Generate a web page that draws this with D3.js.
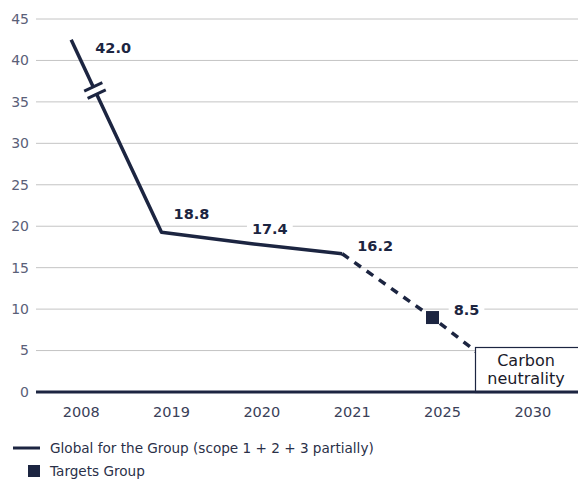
<!DOCTYPE html>
<html><head><meta charset="utf-8">
<script src="https://cdn.jsdelivr.net/npm/d3@7"></script>
<style>body{margin:0;background:#fff}svg{display:block}text{font-family:"DejaVu Sans",sans-serif}</style>
</head><body><svg id="c" width="578" height="480"></svg>
<script>
const years = ["2008","2019","2020","2021","2025","2030"];
const actualYears = ["2008","2019","2020","2021"];
const actualValues = [42.0, 18.8, 17.4, 16.2];
const targetYears = ["2021","2025","2030"];
const targetValues = [16.2, 8.5, 0];
const targetPointYear = ["2025"];
const targetPointValue = [8.5];
const yTicks = [0,5,10,15,20,25,30,35,40,45];
const legendLabels = ["Global for the Group (scope 1 + 2 + 3 partially)", "Targets Group"];
const navy = "#1c2541";

const svg = d3.select("#c");
const pLeft = 36, pRight = 578, pTop = 19, pBottom = 392;
const x = d3.scalePoint().domain(years).range([pLeft, pRight]).padding(0.5);
const y = d3.scaleLinear().domain([0,45]).range([pBottom, pTop]);

// grid
svg.append("g").selectAll("line").data(yTicks.filter(d=>d>0)).join("line")
  .attr("x1", pLeft).attr("x2", pRight).attr("y1", d=>y(d)).attr("y2", d=>y(d))
  .attr("stroke", "#c4c4c4").attr("stroke-width", 1);
svg.append("g").selectAll("text").data(yTicks).join("text")
  .attr("x", 29).attr("y", d=>y(d)).attr("dy","0.35em").attr("text-anchor","end")
  .attr("font-size", 14).attr("fill", "#5a6078").text(d=>d);
// x labels
svg.append("g").selectAll("text").data(years).join("text")
  .attr("x", d=>x(d)).attr("y", 412).attr("dy","0.35em").attr("text-anchor","middle")
  .attr("font-size", 14.5).attr("fill", "#3a4058").text(d=>d);

// lines (offset group)
const g = svg.append("g").attr("transform","translate(-10,-4)");
const line = d3.line().x(d=>x(d[0])).y(d=>y(d[1]));
const actual = actualYears.map((d,i)=>[d, actualValues[i]]);
const target = targetYears.map((d,i)=>[d, targetValues[i]]);
g.append("path").attr("d", line(target)).attr("fill","none").attr("stroke",navy)
  .attr("stroke-width",3.5).attr("stroke-dasharray","8,7");
// solid with break
const p0 = [x(actual[0][0]), y(actual[0][1])], p1 = [x(actual[1][0]), y(actual[1][1])];
const ddx = p1[0]-p0[0], ddy = p1[1]-p0[1], L = Math.hypot(ddx,ddy);
const ux = ddx/L, uy = ddy/L;
const t1 = 52, t2 = 60;
g.append("line").attr("x1",p0[0]).attr("y1",p0[1]).attr("x2",p0[0]+ux*t1).attr("y2",p0[1]+uy*t1)
  .attr("stroke",navy).attr("stroke-width",3.5);
g.append("path").attr("d", d3.line()([[p0[0]+ux*t2, p0[1]+uy*t2]].concat(actual.slice(1).map(d=>[x(d[0]),y(d[1])]))))
  .attr("fill","none").attr("stroke",navy).attr("stroke-width",3.5).attr("stroke-linejoin","round");
// break slashes
[t1, t2].forEach(t=>{
  const cx = p0[0]+ux*t, cy = p0[1]+uy*t;
  const ang = -25*Math.PI/180, hl = 10;
  g.append("line").attr("x1",cx-Math.cos(ang)*hl).attr("y1",cy-Math.sin(ang)*hl)
    .attr("x2",cx+Math.cos(ang)*hl).attr("y2",cy+Math.sin(ang)*hl)
    .attr("stroke",navy).attr("stroke-width",3);
});
// target square
g.selectAll("rect.sq").data(targetPointYear).join("rect").attr("class","sq")
  .attr("x", d=>x(d)-6.5).attr("y", (d,i)=>y(targetPointValue[i])-6.5).attr("width",13).attr("height",13).attr("fill",navy);

// value labels
const labels = [
  {t:"42.0", yr:"2008", v:42.0, dx:32, dy:4},
  {t:"18.8", yr:"2019", v:18.8, dx:20, dy:-22},
  {t:"17.4", yr:"2020", v:17.4, dx:8, dy:-19},
  {t:"16.2", yr:"2021", v:16.2, dx:23, dy:-12},
  {t:"8.5", yr:"2025", v:8.5, dx:24, dy:-12}
];
labels.forEach(l=>{
  const tx = x(l.yr)+l.dx, ty = y(l.v)+l.dy;
  const tt = svg.append("text").attr("x",tx).attr("y",ty).attr("dy","0.35em").attr("text-anchor","middle")
    .attr("font-size",14.5).attr("font-weight","bold").attr("fill",navy).text(l.t);
  const bb = tt.node().getBBox();
  svg.insert("rect", () => tt.node()).attr("x",bb.x-5).attr("y",bb.y).attr("width",bb.width+10).attr("height",bb.height).attr("fill","#fff");
});

// carbon neutrality box
svg.append("rect").attr("x",475.5).attr("y",347.5).attr("width",110).attr("height",pBottom-347).attr("fill","#fff").attr("stroke",navy).attr("stroke-width",1.2);
svg.append("text").attr("x",526).attr("y",360).attr("dy","0.35em").attr("text-anchor","middle").attr("font-size",16).attr("fill","#1a1a2a").text("Carbon");
svg.append("text").attr("x",526).attr("y",378).attr("dy","0.35em").attr("text-anchor","middle").attr("font-size",16).attr("fill","#1a1a2a").text("neutrality");

// axis line
svg.append("line").attr("x1",pLeft).attr("x2",pRight).attr("y1",pBottom).attr("y2",pBottom).attr("stroke",navy).attr("stroke-width",3);

// legend
svg.append("line").attr("x1",13).attr("x2",40).attr("y1",448).attr("y2",448).attr("stroke",navy).attr("stroke-width",3);
svg.append("text").attr("x",50).attr("y",448).attr("dy","0.35em").attr("font-size",13.6).attr("fill","#2a3048").text(legendLabels[0]);
svg.append("rect").attr("x",28).attr("y",465).attr("width",12).attr("height",12).attr("fill",navy);
svg.append("text").attr("x",50).attr("y",471).attr("dy","0.35em").attr("font-size",13.6).attr("fill","#2a3048").text(legendLabels[1]);
</script></body></html>
